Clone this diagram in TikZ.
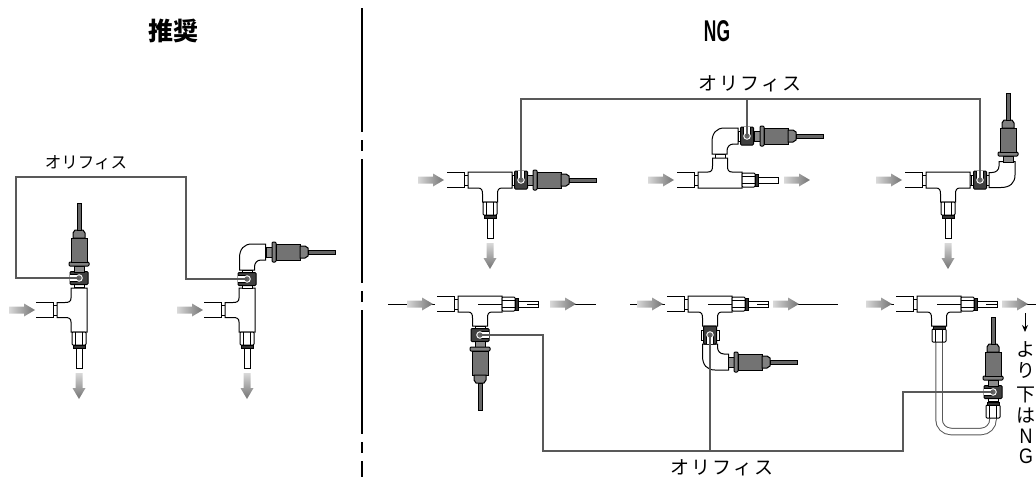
\documentclass[tikz,border=0pt]{standalone}
\usepackage{fontspec}
\setmainfont{Liberation Sans}
\newfontfamily\cjk{Noto Sans CJK JP}
\newfontfamily\cjkwide[LetterSpace=12]{Noto Sans CJK JP}
\usetikzlibrary{arrows.meta}
\newcommand{\nutshape}{
  \draw[part, rounded corners=1pt] (0,-7) rectangle (13,7);
  \draw[line width=.6pt] (0,-3.5) -- (13,-3.5) (0,3.5) -- (13,3.5);
  \draw[part, fill=black!80] (13,-6) rectangle (16,6);
}
\tikzset{
  part/.style={draw=black, line width=1pt, fill=white},
  lead/.style={draw=black!65, line width=1.3pt},
  flowline/.style={draw=black, line width=.6pt},
  wall/.style={draw=black, line width=1.6pt, dash pattern=on 124pt off 8pt on 11pt off 8pt},
  label/.style={inner sep=0pt},
  teebody/.pic={
    \draw[part] (-26,-5) rectangle (26,5);
    \draw[part] (-5,22) rectangle (5,26);
    \draw[part] (-22,-8) -- (22,-8) -- (22,8) -- (12,8)
      .. controls (8.5,8) and (7.5,10) .. (7.5,14) -- (7.5,22) -- (-7.5,22) -- (-7.5,14)
      .. controls (-7.5,10) and (-8.5,8) .. (-12,8) -- (-22,8) -- cycle;
  },
  pipe/.pic={
    \draw[part, fill=none] (17,-7.5) -- (0,-7.5) -- (0,7.5) -- (17,7.5);
  },
  nutbody/.pic={
    \nutshape
  },
  fitting/.pic={
    \draw[part] (16,-3) rectangle (36,3);
    \nutshape
  },
  orifice/.pic={
    \draw[part] (-9,-5) rectangle (9,5);
    \draw[part, fill=black!75, rounded corners=1pt] (-6.5,-9) rectangle (6.5,9);
    \draw[part] (-3.5,-9) -- (-3.5,0) (3.5,-9) -- (3.5,0);
    \fill[white] (-3.1,-8.6) rectangle (3.1,0);
    \draw[draw=white, fill=black!60, line width=.9pt] (0,0) circle (3.3);
  },
  sensor/.pic={
    \draw[part, fill=black!45] (-6,-5) rectangle (0,5);
    \draw[part, fill=black!50, rounded corners=1pt] (0,-10) rectangle (4,10);
    \draw[part, fill=black!55] (4,-8) rectangle (28,8);
    \draw[part, fill=black!50] (28,-6) -- (33,-6) -- (36,-4) -- (36,4) -- (33,6) -- (28,6) -- cycle;
    \draw[part, fill=black!60] (36,-2) rectangle (63,2);
  },
  elbow/.pic={
    \draw[part] (-7.5,0) -- (-7.5,-12) .. controls (-7.5,-21) and (-3,-26) .. (5,-26) -- (18.5,-26)
      -- (18.5,-10) -- (14,-10) .. controls (10,-10) and (7.5,-7) .. (7.5,-3) -- (7.5,0) -- cycle;
  },
  flowr/.pic={
    \path[left color=black!15, right color=black!55] (0,-3.5) -- (15,-3.5) -- (15,-6.5)
      -- (26,0) -- (15,6.5) -- (15,3.5) -- (0,3.5) -- cycle;
  },
  flowd/.pic={
    \path[top color=black!15, bottom color=black!55] (-3.5,0) -- (-3.5,15) -- (-6.5,15)
      -- (0,26) -- (6.5,15) -- (3.5,15) -- (3.5,0) -- cycle;
  },
}
\begin{document}
\begin{tikzpicture}[x=1pt, y=-1pt]
  \useasboundingbox (0,0) rectangle (1036,477);

  \node[label] (titleok) at (173,31) {\cjk\bfseries\fontsize{25}{25}\selectfont 推奨};
  \node[label] (titleng) at (717,31) {\scalebox{.58}[1]{\bfseries\fontsize{30}{30}\selectfont NG}};
  \node[label] (orirec) at (86,163) {\cjk\fontsize{16.5}{16.5}\selectfont オリフィス};
  \node[label] (oritop) at (750,84) {\cjkwide\fontsize{19}{19}\selectfont オリフィス};
  \node[label] (oribot) at (722,468) {\cjkwide\fontsize{19}{19}\selectfont オリフィス};

  \coordinate (walltop) at (362,8);
  \coordinate (wallbot) at (362,477);
  \draw[wall] (walltop) -- (wallbot);

  \coordinate (ra) at (79,278);
  \coordinate (rb) at (247,279);
  \coordinate (oa) at (521,180);
  \coordinate (ob) at (747,136);
  \coordinate (oc) at (980,180);
  \coordinate (od) at (480,335);
  \coordinate (oe) at (710,335);
  \coordinate (of) at (993,392);
  \coordinate (ltop) at (747,99);
  \coordinate (lbot) at (710,451);

  % recommended pair
  \foreach \x/\p in {79/53, 247/221}{
    \pic[rotate=-90] at (\x,310) {teebody};
    \pic[rotate=180] at (\p,310) {pipe};
    \pic[rotate=-90] at (\x,332) {fitting};
    \pic at (\p-44,310) {flowr};
    \pic at (\x,373) {flowd};
  }
  \pic[rotate=90] at (ra) {orifice};
  \pic[rotate=90] at (79,266) {sensor};
  \pic at (247,270) {elbow};
  \pic[rotate=90] at (rb) {orifice};
  \pic at (272,252) {sensor};

  % upper row
  \foreach \x in {490,720,948}{
    \pic at (\x-72,180) {flowr};
    \pic[rotate=180] at (\x-26,180) {pipe};
  }
  \pic at (490,180) {teebody};
  \pic[rotate=-90] at (490,202) {fitting};
  \pic at (490,243) {flowd};
  \pic at (oa) {orifice};
  \pic at (533,180) {sensor};

  \pic[rotate=180] at (720,180) {teebody};
  \pic at (742,180) {fitting};
  \pic at (784,180) {flowr};
  \pic at (719.5,154) {elbow};
  \pic at (ob) {orifice};
  \pic at (760,136) {sensor};

  \pic at (948,180) {teebody};
  \pic[rotate=-90] at (948,202) {fitting};
  \pic at (948,243) {flowd};
  \pic at (oc) {orifice};
  \pic[rotate=-90, xscale=-1] at (989,180) {elbow};
  \pic[rotate=90] at (1008,156) {sensor};

  % lower row
  \foreach \x/\s/\a/\e in {480/388/550/596, 710/630/773/838, 939/873/1002/1036}{
    \draw[flowline] (\s,304) -- (\x-45,304);
    \draw[flowline] (\a,304) -- (\e,304);
    \pic at (\x,304) {teebody};
    \pic[rotate=180] at (\x-26,304) {pipe};
    \pic at (\x+22,304) {fitting};
    \draw[flowline] (\x-2,304) -- (\x+22,304);
    \draw[flowline] (\x+47,304) -- (\x+58,304);
    \pic at (\x-73,304) {flowr};
    \pic at (\a,304) {flowr};
  }
  \pic[rotate=-90] at (od) {orifice};
  \pic[rotate=-90] at (480,347) {sensor};

  \pic[yscale=-1] at (710,344) {elbow};
  \pic[rotate=180] at (oe) {orifice};
  \pic at (734,362) {sensor};

  \coordinate (dripa) at (939,340);
  \coordinate (dripb) at (993,416);
  \draw[draw=black!65, line width=1pt, double=white, double distance=5.5pt, rounded corners=12pt]
    (dripa) -- (939,431.5) -- (993,431.5) -- (dripb);
  \pic[rotate=90] at (939,342) {nutbody};
  \pic[rotate=90] at (993,418) {nutbody};
  \pic[rotate=90] at (of) {orifice};
  \pic[rotate=90] at (993,380) {sensor};

  \draw[lead] (ra) -| (16,177) -- (186,177) |- (rb);
  \draw[lead] (oa) |- (ltop) -| (oc);
  \draw[lead] (ob) -- (ltop);
  \draw[lead] (od) -| (543,451) -- (903,451) |- (of);
  \draw[lead] (oe) -- (lbot);

  \coordinate (notea) at (1025,313);
  \coordinate (noteb) at (1025,332);
  \draw[flowline, line width=1pt, -{Stealth[length=7pt, width=6pt]}] (notea) -- (noteb);
  \foreach \t/\y [count=\i] in {よ/349, り/370, 下/395, は/416}{
    \node[label] (note\i) at (1026,\y) {\cjk\fontsize{19}{19}\selectfont \t};
  }
  \foreach \t/\y [count=\i from 5] in {N/436, G/456}{
    \node[label] (note\i) at (1026,\y) {\scalebox{.85}[1]{\fontsize{21}{21}\selectfont \t}};
  }
\end{tikzpicture}
\end{document}
